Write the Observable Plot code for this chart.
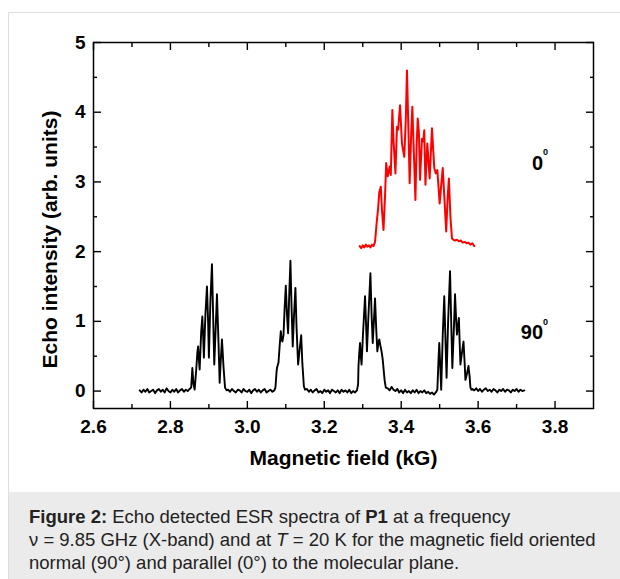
<!DOCTYPE html>
<html>
<head>
<meta charset="utf-8">
<script src="https://cdn.jsdelivr.net/npm/d3@7"></script>
<script src="https://cdn.jsdelivr.net/npm/@observablehq/plot@0.6"></script>
<style>
  html, body { margin: 0; padding: 0; width: 620px; height: 579px; overflow: hidden; background: #fff; }
  #box { position: absolute; left: 8px; top: 12px; width: 700px; height: 700px; border: 1px solid #dedede; box-sizing: border-box; }
  #chart { position: absolute; left: 0; top: 0; }
  #cap { position: absolute; left: 9px; top: 492px; width: 611px; height: 87px; background: #ebebeb;
         font-family: "Liberation Sans", Arial, sans-serif; font-size: 18.5px; line-height: 23px; color: #222;
         padding: 13px 0 0 20px; box-sizing: border-box; white-space: nowrap; }
</style>
</head>
<body>
<div id="box"></div>
<div id="chart"></div>
<div id="cap"><b>Figure 2:</b> Echo detected ESR spectra of <b>P1</b> at a frequency<br>ν = 9.85 GHz (X-band) and at <i>T</i> = 20 K for the magnetic field oriented<br>normal (90°) and parallel (0°) to the molecular plane.</div>
<script>
// ---- axis ticks ----
const xMajor = [2.6, 2.8, 3.0, 3.2, 3.4, 3.6, 3.8];
const xMinor = [2.7, 2.9, 3.1, 3.3, 3.5, 3.7];
const yMajor = [0, 1, 2, 3, 4, 5];
const yMinor = [0.5, 1.5, 2.5, 3.5, 4.5];

// ---- 90° spectrum (black): [field kG, echo intensity] ----
const base90A = [[2.720,0.01],[2.725,-0.02],[2.730,0.02],[2.735,-0.01],[2.740,0.03],[2.745,-0.02],[2.750,0.00],[2.755,0.02],[2.760,-0.03],[2.765,0.01],[2.770,0.03],[2.775,-0.01],[2.780,0.02],[2.785,-0.02],[2.790,0.04],[2.795,0.00],[2.800,-0.02],[2.805,0.02],[2.810,-0.01],[2.815,0.03],[2.820,-0.02],[2.825,0.01],[2.830,0.03],[2.835,-0.01],[2.840,0.02],[2.845,0.00],[2.850,0.03]];
const peak90A = [[2.854,0.05],[2.857,0.33],[2.860,0.10],[2.863,0.02],[2.867,0.30],[2.870,0.55],[2.872,0.64],[2.874,0.45],[2.876,0.31],[2.880,0.85],[2.883,1.07],[2.885,0.80],[2.887,0.48],[2.891,1.10],[2.895,1.50],[2.898,1.00],[2.900,0.48],[2.904,1.30],[2.908,1.82],[2.911,1.10],[2.914,0.38],[2.918,0.95],[2.921,1.39],[2.925,0.70],[2.928,0.12],[2.931,0.45],[2.934,0.74],[2.938,0.35],[2.942,0.05],[2.946,0.01]];
const base90B = [[2.950,0.02],[2.955,-0.01],[2.960,0.03],[2.965,0.00],[2.970,-0.02],[2.975,0.02],[2.980,0.01],[2.985,-0.02],[2.990,0.03],[2.995,0.00],[3.000,-0.01],[3.005,0.02],[3.010,-0.03],[3.015,0.01],[3.020,0.03],[3.025,-0.01],[3.030,0.02],[3.035,-0.02],[3.040,0.01],[3.045,0.03],[3.050,-0.02],[3.055,0.00],[3.060,0.02],[3.065,-0.01],[3.070,0.01]];
const peak90B = [[3.073,0.05],[3.076,0.28],[3.077,0.33],[3.081,0.41],[3.084,0.65],[3.087,0.86],[3.089,0.75],[3.091,0.71],[3.094,0.80],[3.097,1.20],[3.100,1.51],[3.103,1.10],[3.106,0.83],[3.109,1.40],[3.112,1.87],[3.115,1.20],[3.118,0.64],[3.121,1.05],[3.125,1.48],[3.128,0.90],[3.132,0.38],[3.136,0.60],[3.140,0.80],[3.143,0.40],[3.147,0.07],[3.150,0.02]];
const base90C = [[3.155,0.03],[3.160,-0.01],[3.165,0.02],[3.170,-0.02],[3.175,0.01],[3.180,0.03],[3.185,-0.02],[3.190,0.00],[3.195,-0.03],[3.200,0.02],[3.205,-0.01],[3.210,0.01],[3.215,-0.03],[3.220,0.02],[3.225,0.00],[3.230,-0.02],[3.235,0.01],[3.240,-0.03],[3.245,0.02],[3.250,-0.01],[3.255,0.01],[3.260,-0.02],[3.265,0.02],[3.270,-0.03],[3.275,0.00],[3.280,-0.02],[3.285,0.01]];
const peak90C = [[3.288,0.10],[3.289,0.36],[3.291,0.55],[3.293,0.69],[3.295,0.50],[3.297,0.38],[3.301,0.85],[3.306,1.36],[3.309,0.90],[3.311,0.57],[3.315,1.10],[3.320,1.69],[3.323,1.10],[3.326,0.69],[3.329,1.00],[3.332,1.33],[3.335,0.90],[3.338,0.57],[3.341,0.70],[3.343,0.74],[3.346,0.65],[3.349,0.57],[3.352,0.45],[3.354,0.33],[3.357,0.15],[3.360,0.05]];
const base90D = [[3.365,0.04],[3.370,0.01],[3.375,0.06],[3.380,0.02],[3.385,0.00],[3.390,0.03],[3.395,-0.02],[3.400,0.01],[3.405,-0.03],[3.410,0.02],[3.415,-0.02],[3.420,0.00],[3.425,-0.03],[3.430,0.01],[3.435,-0.02],[3.440,0.02],[3.445,-0.03],[3.450,0.00],[3.455,-0.02],[3.460,0.01],[3.465,-0.03],[3.470,-0.01],[3.475,-0.04],[3.480,-0.02],[3.485,-0.05],[3.490,-0.02]];
const peak90D = [[3.494,0.02],[3.497,0.45],[3.499,0.69],[3.502,0.30],[3.504,0.02],[3.508,0.80],[3.512,1.36],[3.515,0.75],[3.518,0.19],[3.522,1.00],[3.527,1.72],[3.530,1.00],[3.533,0.33],[3.537,0.90],[3.540,1.39],[3.543,1.00],[3.545,0.81],[3.548,0.95],[3.550,1.05],[3.552,0.70],[3.554,0.38],[3.558,0.55],[3.562,0.71],[3.565,0.40],[3.567,0.16],[3.571,0.25],[3.575,0.36],[3.578,0.20],[3.580,0.05],[3.583,0.02]];
const base90E = [[3.585,0.03],[3.590,0.01],[3.595,0.04],[3.600,0.00],[3.605,0.03],[3.610,-0.01],[3.615,0.02],[3.620,0.04],[3.625,0.00],[3.630,0.02],[3.635,-0.01],[3.640,0.03],[3.645,0.01],[3.650,-0.02],[3.655,0.02],[3.660,0.00],[3.665,0.03],[3.670,-0.01],[3.675,0.02],[3.680,0.01],[3.685,-0.02],[3.690,0.02],[3.695,0.00],[3.700,0.03],[3.705,-0.01],[3.710,0.02],[3.715,0.00],[3.720,0.01]];

// ---- 0° spectrum (red): [field kG, echo intensity] ----
const spec0 = [[3.292,2.08],[3.296,2.05],[3.300,2.09],[3.304,2.06],[3.308,2.10],[3.312,2.07],[3.316,2.09],[3.320,2.06],[3.324,2.10],[3.328,2.08],[3.332,2.14],[3.336,2.40],[3.340,2.62],[3.343,2.85],[3.347,2.93],[3.350,2.60],[3.354,2.31],[3.358,2.80],[3.361,3.27],[3.365,3.08],[3.370,3.22],[3.373,3.10],[3.377,4.03],[3.380,3.60],[3.385,3.12],[3.389,3.79],[3.392,3.75],[3.397,4.10],[3.402,3.55],[3.408,3.36],[3.412,3.90],[3.415,4.60],[3.419,3.70],[3.422,2.98],[3.426,3.70],[3.429,4.08],[3.433,3.40],[3.437,2.74],[3.440,3.50],[3.443,3.91],[3.446,3.72],[3.449,3.03],[3.454,3.62],[3.457,3.58],[3.460,3.74],[3.463,2.96],[3.468,3.55],[3.474,3.05],[3.480,3.77],[3.486,3.20],[3.490,3.12],[3.494,3.17],[3.500,2.69],[3.504,2.95],[3.508,3.20],[3.513,2.70],[3.517,2.29],[3.521,2.80],[3.524,3.05],[3.528,2.50],[3.532,2.19],[3.536,2.17],[3.540,2.16],[3.545,2.17],[3.550,2.15],[3.555,2.16],[3.560,2.13],[3.565,2.14],[3.570,2.12],[3.575,2.13],[3.580,2.10],[3.585,2.12],[3.590,2.08]];

// ---- annotations ----
const annotText = ["0", "90"];
const annotField = [3.769, 3.769];
const annotEcho = [3.27, 0.84];

const xTitle = "Magnetic field (kG)";
const yTitle = "Echo intensity (arb. units)";

const spec90 = [...base90A, ...peak90A, ...base90B, ...peak90B, ...base90C, ...peak90C, ...base90D, ...peak90D, ...base90E];
const idx = annotText.map((_, i) => i);

const plot = Plot.plot({
  width: 620,
  height: 490,
  marginLeft: 93,
  marginRight: 27,
  marginTop: 42,
  marginBottom: 82,
  x: {domain: [2.6, 3.9]},
  y: {domain: [-0.25, 5]},
  style: {fontFamily: "'Liberation Sans', Arial, sans-serif", fontWeight: "bold", fontSize: "19px", color: "#000", background: "transparent", overflow: "visible"},
  marks: [
    Plot.line(spec90, {x: d => d[0], y: d => d[1], stroke: "#000", strokeWidth: 1.9}),
    Plot.line(spec0, {x: d => d[0], y: d => d[1], stroke: "#ff0000", strokeWidth: 2}),
    // inward ticks
    Plot.axisX({anchor: "bottom", ticks: xMajor, tickSize: -7, fill: "none", label: null, strokeWidth: 1.4}),
    Plot.axisX({anchor: "top", ticks: xMajor, tickSize: -7, fill: "none", label: null, strokeWidth: 1.4}),
    Plot.axisX({anchor: "bottom", ticks: xMinor, tickSize: -4, fill: "none", label: null, strokeWidth: 1.4}),
    Plot.axisX({anchor: "top", ticks: xMinor, tickSize: -4, fill: "none", label: null, strokeWidth: 1.4}),
    Plot.axisY({anchor: "left", ticks: yMajor, tickSize: -8, fill: "none", label: null, strokeWidth: 1.4}),
    Plot.axisY({anchor: "right", ticks: yMajor, tickSize: -8, fill: "none", label: null, strokeWidth: 1.4}),
    Plot.axisY({anchor: "left", ticks: yMinor, tickSize: -4, fill: "none", label: null, strokeWidth: 1.4}),
    Plot.axisY({anchor: "right", ticks: yMinor, tickSize: -4, fill: "none", label: null, strokeWidth: 1.4}),
    // tick labels
    Plot.axisX({anchor: "bottom", ticks: xMajor, tickSize: 0, tickPadding: 11, tickFormat: d => d.toFixed(1), label: null}),
    Plot.axisY({anchor: "left", ticks: yMajor, tickSize: 0, tickPadding: 8, tickFormat: d => String(d), label: null}),
    Plot.frame({stroke: "#000", strokeWidth: 1.5}),
    // titles
    Plot.text([xTitle], {frameAnchor: "bottom", text: d => d, dy: 50, fontSize: 21, lineAnchor: "middle", textAnchor: "middle"}),
    Plot.text([yTitle], {frameAnchor: "left", text: d => d, dx: -43, dy: 14, rotate: -90, fontSize: 21, lineAnchor: "middle", textAnchor: "middle"}),
    // annotations
    Plot.text(idx, {x: i => annotField[i], y: i => annotEcho[i], text: i => annotText[i], textAnchor: "end", fontSize: 20, lineAnchor: "middle"}),
    Plot.text(idx, {x: i => annotField[i], y: i => annotEcho[i], text: () => "0", textAnchor: "start", fontSize: 9, lineAnchor: "top", dy: -14})
  ]
});
document.getElementById("chart").appendChild(plot);
</script>
</body>
</html>
